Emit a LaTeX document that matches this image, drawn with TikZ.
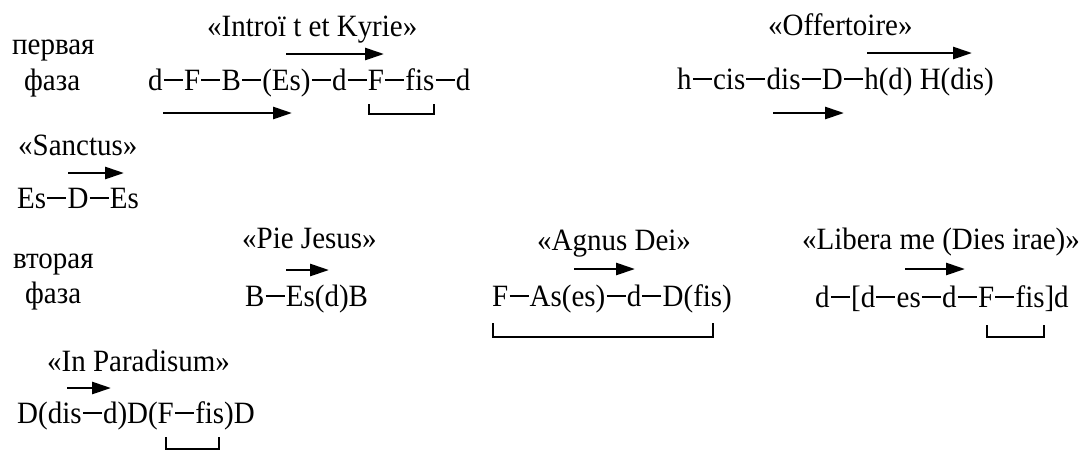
\documentclass[tikz,border=0pt]{standalone}
\usepackage{fontspec}
\setmainfont{Liberation Serif}
\newfontfamily\tnr{Liberation Serif}[FakeStretch=0.935]
\usetikzlibrary{arrows.meta}
\newcommand\md{\kern1.2pt\rule[9.3pt]{19pt}{2pt}\kern1.2pt}
\begin{document}
\begin{tikzpicture}[x=1pt,y=-1pt,
  txt/.style={inner sep=0pt, anchor=base west, font=\tnr\fontsize{31}{35}\selectfont},
  arr/.style={line width=2.7pt, -{Triangle[length=19pt,width=12pt]}},
  brk/.style={line width=2.3pt}]
\useasboundingbox (0,0) rectangle (1089,451);
% first phase
\node[txt] (p1) at (12,54) {первая};
\node[txt] (f1) at (24,90) {фаза};
\node[txt] (t1) at (207,36) {«Introï t et Kyrie»};
\node[txt] (s1) at (148,90) {d\md F\md B\md (Es)\md d\md F\md fis\md d};
\coordinate (a1s) at (286,54); \coordinate (a1e) at (384,54);
\draw[arr] (a1s) -- (a1e);
\coordinate (a2s) at (163,113); \coordinate (a2e) at (292,113);
\draw[arr] (a2s) -- (a2e);
\coordinate (b1l) at (369,104); \coordinate (b1r) at (434,104);
\draw[brk] (b1l) |- (b1r |- 0,114) -- (b1r);
% Offertoire
\node[txt] (t2) at (768,35) {«Offertoire»};
\node[txt] (s2) at (677,89) {h\md cis\md dis\md D\md h(d) H(dis)};
\coordinate (a3s) at (867,53); \coordinate (a3e) at (972,53);
\draw[arr] (a3s) -- (a3e);
\coordinate (a4s) at (773,113); \coordinate (a4e) at (844,113);
\draw[arr] (a4s) -- (a4e);
% Sanctus
\node[txt] (t3) at (18,155) {«Sanctus»};
\node[txt] (s3) at (17,208) {Es\md D\md Es};
\coordinate (a5s) at (68,173); \coordinate (a5e) at (124,173);
\draw[arr] (a5s) -- (a5e);
% second phase
\node[txt] (p2) at (13,268) {вторая};
\node[txt] (f2) at (25,303) {фаза};
% Pie Jesus
\node[txt] (t4) at (242,248) {«Pie Jesus»};
\node[txt] (s4) at (245,306) {B\md Es(d)B};
\coordinate (a6s) at (286,270); \coordinate (a6e) at (329,270);
\draw[arr] (a6s) -- (a6e);
% Agnus Dei
\node[txt] (t5) at (537,250) {«Agnus Dei»};
\node[txt] (s5) at (492,306) {F\md As(es)\md d\md D(fis)};
\coordinate (a7s) at (574,269); \coordinate (a7e) at (635,269);
\draw[arr] (a7s) -- (a7e);
\coordinate (b2l) at (493,323); \coordinate (b2r) at (713,323);
\draw[brk] (b2l) |- (b2r |- 0,337) -- (b2r);
% Libera me
\node[txt] (t6) at (802,249) {«Libera me (Dies irae)»};
\node[txt] (s6) at (815,307) {d\md [d\md es\md d\md F\md fis]d};
\coordinate (a8s) at (905,269); \coordinate (a8e) at (965,269);
\draw[arr] (a8s) -- (a8e);
\coordinate (b3l) at (987,325); \coordinate (b3r) at (1044,325);
\draw[brk] (b3l) |- (b3r |- 0,337) -- (b3r);
% In Paradisum
\node[txt] (t7) at (47,371) {«In Paradisum»};
\node[txt] (s7) at (17,423) {D(dis\md d)D(F\md fis)D};
\coordinate (a9s) at (67,388); \coordinate (a9e) at (111,388);
\draw[arr] (a9s) -- (a9e);
\coordinate (b4l) at (166,437); \coordinate (b4r) at (219,437);
\draw[brk] (b4l) |- (b4r |- 0,449) -- (b4r);
\end{tikzpicture}
\end{document}
